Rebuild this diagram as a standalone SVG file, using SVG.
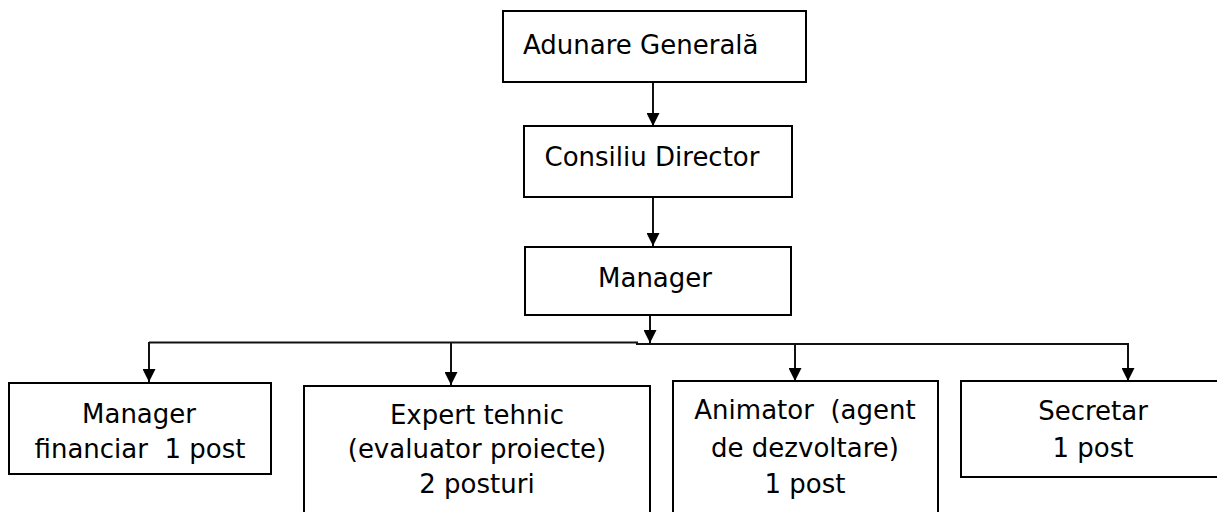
<svg xmlns="http://www.w3.org/2000/svg" width="1217" height="512" viewBox="0 0 1217 512">
<style>
.box{fill:#fff;stroke:#000;stroke-width:2}
.t{font-family:"DejaVu Sans","Liberation Sans",sans-serif;font-size:26px;fill:#000;text-anchor:middle}
.c{fill:none;stroke:#111;stroke-width:2}
</style>
<defs>
<marker id="ah" markerWidth="13" markerHeight="13" refX="13" refY="6.5" orient="auto" markerUnits="userSpaceOnUse" viewBox="0 0 13 13"><path d="M0,0 L13,6.5 L0,13 z" fill="#000"/></marker>
</defs>
<rect width="1217" height="512" fill="#fff"/>
<g id="connectors">
<line class="c" x1="653" y1="82" x2="653" y2="126" marker-end="url(#ah)"/>
<line class="c" x1="653" y1="197" x2="653" y2="246" marker-end="url(#ah)"/>
<line class="c" x1="650" y1="315" x2="650" y2="343" marker-end="url(#ah)"/>
<path class="c" d="M149,342.5 L637,342.5 L637,344 L1128,344"/>
<line class="c" x1="149" y1="342" x2="149" y2="382" marker-end="url(#ah)"/>
<line class="c" x1="451" y1="342" x2="451" y2="385" marker-end="url(#ah)"/>
<line class="c" x1="795" y1="344" x2="795" y2="381" marker-end="url(#ah)"/>
<line class="c" x1="1128" y1="343" x2="1128" y2="381" marker-end="url(#ah)"/>
</g>
<g id="adunare">
<rect class="box" x="503" y="11" width="303" height="71"/>
<text class="t" x="523" y="54" style="text-anchor:start">Adunare Generală</text>
</g>
<g id="consiliu">
<rect class="box" x="524" y="126" width="268" height="71"/>
<text class="t" x="652" y="166">Consiliu Director</text>
</g>
<g id="manager">
<rect class="box" x="525" y="247" width="266" height="68"/>
<text class="t" x="655" y="287">Manager</text>
</g>
<g id="manager-financiar">
<rect class="box" x="9" y="383" width="262" height="91"/>
<text class="t" x="139" y="423">Manager</text>
<text class="t" x="140" y="458" xml:space="preserve">financiar  1 post</text>
</g>
<g id="expert">
<rect class="box" x="304" y="386" width="346" height="140"/>
<text class="t" x="477" y="424">Expert tehnic</text>
<text class="t" x="477" y="458">(evaluator proiecte)</text>
<text class="t" x="477" y="493">2 posturi</text>
</g>
<g id="animator">
<rect class="box" x="673" y="381" width="265" height="140"/>
<text class="t" x="805" y="419" xml:space="preserve">Animator  (agent</text>
<text class="t" x="805" y="457">de dezvoltare)</text>
<text class="t" x="805" y="493">1 post</text>
</g>
<g id="secretar">
<rect class="box" x="961" y="381" width="270" height="96"/>
<text class="t" x="1093" y="420">Secretar</text>
<text class="t" x="1093" y="457">1 post</text>
</g>
</svg>
